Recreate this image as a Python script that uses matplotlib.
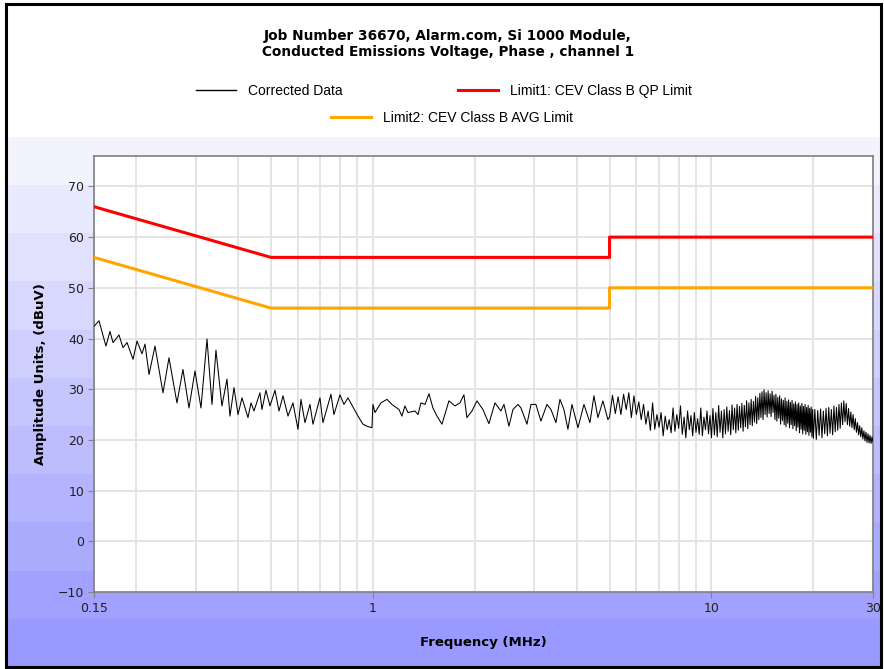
import numpy as np
import matplotlib.pyplot as plt
from matplotlib.patches import Rectangle
from matplotlib.lines import Line2D
from matplotlib.ticker import NullFormatter, LogLocator

# corrected data (MHz, dBuV), 0.15 - 5 MHz
freq_low = [0.150, 0.1552, 0.1627, 0.1672, 0.1707, 0.1778, 0.1827, 0.1878, 0.1956, 0.2010,
            0.2079, 0.2122, 0.2181, 0.2271, 0.2398, 0.2498, 0.2637, 0.2747, 0.2862, 0.2981,
            0.3105, 0.3235, 0.3346, 0.3438, 0.3581, 0.3706,
            0.3782, 0.3887, 0.3995, 0.4104, 0.4275, 0.4363, 0.4453, 0.4637, 0.4701, 0.4831,
            0.4965, 0.5137, 0.5279, 0.5424, 0.5612, 0.5805, 0.6006, 0.6130, 0.6299, 0.6517,
            0.6651, 0.6975, 0.7118, 0.7516, 0.7671, 0.7992, 0.8211, 0.8437, 0.9032, 0.9344,
            0.9602, 0.9934, 1.000, 1.014, 1.056, 1.100, 1.138, 1.194, 1.218, 1.243,
            1.269, 1.331, 1.359, 1.386, 1.425, 1.464, 1.504, 1.546, 1.599, 1.677,
            1.747, 1.807, 1.857, 1.895, 1.961, 2.029, 2.113, 2.201, 2.293,
            2.388, 2.438, 2.522, 2.592, 2.682, 2.737, 2.851, 2.930, 3.030, 3.135,
            3.266, 3.356, 3.472, 3.568, 3.666, 3.767, 3.872, 4.033, 4.201, 4.375,
            4.496, 4.620, 4.779, 4.944]
amp_low = [42.4, 43.5, 38.5, 41.4, 39.2, 40.7, 38.2, 39.2, 35.9, 39.5,
           37.0, 38.9, 32.9, 38.5, 29.3, 36.2, 27.3, 33.9, 26.3, 33.6,
           26.3, 39.9, 27.0, 37.7, 26.7, 32.0,
           24.7, 30.3, 25.0, 28.3, 24.4, 27.3, 25.7, 29.3, 26.0, 29.8,
           26.7, 29.8, 25.7, 28.7, 24.7, 27.3, 22.1, 28.0, 23.4, 27.0,
           23.1, 28.3, 23.4, 29.0, 25.0, 28.9, 27.0, 28.3, 24.7, 23.1,
           22.7, 22.4, 27.0, 25.4, 27.3, 28.0, 27.0, 26.0, 24.7, 26.7,
           25.4, 25.7, 25.0, 27.3, 27.0, 29.1, 26.3, 24.7, 23.1, 27.7,
           26.7, 27.3, 28.9, 24.4, 25.7, 27.7, 26.0, 23.2, 27.3,
           25.7, 27.0, 22.7, 26.0, 27.0, 26.3, 23.1, 27.0, 27.0, 23.7,
           27.0, 26.0, 23.4, 28.0, 26.0, 22.1, 27.0, 22.4, 27.0, 23.4,
           28.7, 24.4, 27.7, 24.0]

# 5 - 30 MHz, dense part of the sweep
freq_high = [5.0, 5.1, 5.2, 5.3, 5.4, 5.5, 5.6, 5.7, 5.8, 5.9,
             6.0, 6.1, 6.2, 6.3, 6.4, 6.5, 6.6, 6.7, 6.8, 6.9,
             7.0, 7.1, 7.2, 7.3, 7.4, 7.5, 7.6, 7.7, 7.8, 7.9,
             8.0, 8.1, 8.2, 8.3, 8.4, 8.5, 8.6, 8.7, 8.8, 8.9,
             9.0, 9.1, 9.2, 9.3, 9.4, 9.5, 9.6, 9.7, 9.8, 9.9, 10.0,
             10.1, 10.2, 10.3, 10.4, 10.5, 10.6, 10.7, 10.8, 10.9, 11.0,
             11.1, 11.2, 11.3, 11.4, 11.5, 11.6, 11.7, 11.8, 11.9, 12.0,
             12.1, 12.2, 12.3, 12.4, 12.5, 12.6, 12.7, 12.8, 12.9, 13.0,
             13.1, 13.2, 13.3, 13.4, 13.5, 13.6, 13.7, 13.8, 13.9, 14.0,
             14.1, 14.2, 14.3, 14.4, 14.5, 14.6, 14.7, 14.8, 14.9, 15.0,
             15.1, 15.2, 15.3, 15.4, 15.5, 15.6, 15.7, 15.8, 15.9, 16.0,
             16.1, 16.2, 16.3, 16.4, 16.5, 16.6, 16.7, 16.8, 16.9, 17.0,
             17.1, 17.2, 17.3, 17.4, 17.5, 17.6, 17.7, 17.8, 17.9, 18.0,
             18.1, 18.2, 18.3, 18.4, 18.5, 18.6, 18.7, 18.8, 18.9, 19.0,
             19.1, 19.2, 19.3, 19.4, 19.5, 19.6, 19.7, 19.8, 19.9, 20.0,
             20.2, 20.4, 20.6, 20.8, 21.0, 21.2, 21.4, 21.6, 21.8, 22.0,
             22.2, 22.4, 22.6, 22.8, 23.0, 23.2, 23.4, 23.6, 23.8, 24.0,
             24.2, 24.4, 24.6, 24.8, 25.0, 25.2, 25.4, 25.6, 25.8, 26.0,
             26.2, 26.4, 26.6, 26.8, 27.0, 27.2, 27.4, 27.6, 27.8, 28.0,
             28.2, 28.4, 28.6, 28.8, 29.0, 29.2, 29.4, 29.6, 29.8, 30.0]
amp_high = [24.5, 28.8, 25.2, 28.5, 25.0, 29.0, 26.0, 29.3, 24.4, 28.7,
            25.0, 27.5, 24.0, 27.0, 23.1, 25.7, 21.9, 27.3, 22.1, 25.0,
            22.5, 25.4, 20.8, 24.7, 22.0, 24.0, 21.4, 26.3, 21.7, 25.0,
            22.3, 26.7, 21.1, 24.5, 20.4, 25.7, 22.0, 24.8, 20.8, 25.4,
            21.5, 24.2, 21.1, 26.3, 20.8, 24.5, 22.0, 25.7, 21.2, 24.8, 20.4,
            26.2, 21.0, 25.4, 20.6, 26.8, 21.5, 25.7, 20.4, 26.0, 21.2,
            26.5, 21.7, 25.8, 21.0, 26.9, 22.0, 26.3, 21.4, 27.0, 21.9,
            26.6, 22.4, 27.2, 21.7, 26.8, 22.6, 27.7, 22.2, 27.3, 23.0,
            28.0, 22.8, 27.6, 23.5, 28.6, 23.2, 28.3, 24.0, 29.2, 24.4,
            29.5, 24.0, 29.9, 25.0, 29.3, 24.5, 29.7, 25.2, 29.1, 24.6,
            29.6, 25.4, 28.8, 24.0, 29.0, 23.7, 28.4, 24.3, 28.7, 23.1,
            28.1, 23.8, 27.8, 23.0, 28.3, 22.6, 27.6, 23.3, 27.9, 22.4,
            27.4, 23.0, 27.8, 22.2, 27.1, 22.8, 27.5, 21.8, 27.0, 22.5,
            27.3, 21.4, 26.7, 22.1, 27.2, 21.2, 26.6, 21.9, 27.0, 21.1,
            26.4, 21.6, 26.8, 20.9, 26.2, 21.5, 26.5, 20.6, 26.0, 20.3,
            26.0, 20.1, 25.8, 20.9, 26.1, 20.4, 25.7, 21.2, 26.2, 20.8,
            26.4, 21.3, 26.0, 21.0, 26.7, 21.6, 26.4, 21.9, 27.0, 22.3,
            27.3, 23.0, 27.7, 23.6, 27.2, 23.0, 26.2, 22.7, 25.5, 22.4,
            25.0, 22.0, 24.2, 21.5, 23.4, 21.0, 22.8, 20.6, 22.4, 20.2,
            21.8, 19.8, 21.5, 19.5, 21.2, 19.4, 20.9, 19.3, 20.6, 19.6]

# limit lines
lim_freq = [0.15, 0.5, 5, 5, 30]
qp_limit = [66, 56, 56, 60, 60]
avg_limit = [56, 46, 46, 50, 50]

x_ticks = [0.15, 1, 10, 30]
x_ticklabels = ['0.15', '1', '10', '30']
y_ticks = list(range(-10, 80, 10))

W, H = 884, 669
fig = plt.figure(figsize=(W / 100, H / 100), dpi=100)
fig.patch.set_facecolor('white')

# banded blue background below the header
bg = fig.add_axes([6 / W, 2 / H, 875 / W, (667 - 137) / H], zorder=-10)
nb = 11
t = np.linspace(0, 1, nb)[:, None]
top = np.array([0.955, 0.955, 0.997])
bot = np.array([0.600, 0.600, 1.000])
cols = top + (bot - top) * t
bg.imshow(cols[:, None, :], aspect='auto', extent=[0, 1, 0, 1], interpolation='nearest')
bg.set_axis_off()

# outer frame
fig.add_artist(Rectangle((6 / W, 2 / H), 875 / W, 663 / H, transform=fig.transFigure,
                         fill=False, edgecolor='black', lw=2.2, zorder=20))

ax = fig.add_axes([94 / W, 1 - 592 / H, (873 - 94) / W, (592 - 156) / H])
ax.set_facecolor('white')
ax.plot(freq_low + freq_high, amp_low + amp_high, color='black', lw=0.75, zorder=3)
ax.plot(lim_freq, qp_limit, color='#ff0000', lw=2.2, zorder=4)
ax.plot(lim_freq, avg_limit, color='#ffa500', lw=2.2, zorder=4)

ax.set_xscale('log')
ax.set_xlim(0.15, 30)
ax.set_ylim(-10, 76)
ax.set_xticks(x_ticks)
ax.set_xticklabels(x_ticklabels)
ax.xaxis.set_minor_locator(LogLocator(base=10, subs=np.arange(2, 10)))
ax.xaxis.set_minor_formatter(NullFormatter())
ax.set_yticks(y_ticks)
ax.tick_params(axis='both', which='major', direction='out', length=4, color='#808080',
               labelsize=9, labelcolor='#202020', pad=3)
ax.tick_params(axis='x', which='minor', length=0)
ax.grid(which='major', color='#e2e2e2', lw=1.3, zorder=0)
ax.grid(which='minor', axis='x', color='#e2e2e2', lw=1.3, zorder=0)
ax.set_axisbelow(True)
for s in ax.spines.values():
    s.set_color('#808080')
    s.set_linewidth(1.2)

ax.set_xlabel('Frequency (MHz)', fontsize=9.5, fontweight='bold', labelpad=15)
ax.set_ylabel('Amplitude Units, (dBuV)', fontsize=9.5, fontweight='bold', labelpad=8)

fig.text(448 / W, 1 - 44 / H, 'Job Number 36670, Alarm.com, Si 1000 Module,\nConducted Emissions Voltage, Phase , channel 1',
         ha='center', va='center', fontsize=9.8, fontweight='bold', linespacing=1.1)

lp = {'family': 'Liberation Sans', 'size': 10}
h1 = [Line2D([], [], color='black', lw=1), Line2D([], [], color='#ff0000', lw=2.2)]
fig.legend(h1, ['Corrected Data', 'Limit1: CEV Class B QP Limit'], loc='center',
           bbox_to_anchor=(444 / W, 1 - 91 / H), ncol=2, frameon=False, columnspacing=8.3,
           handlelength=2.9, handletextpad=0.85, prop=lp)
h2 = [Line2D([], [], color='#ffa500', lw=2.2)]
fig.legend(h2, ['Limit2: CEV Class B AVG Limit'], loc='center',
           bbox_to_anchor=(452 / W, 1 - 118 / H), frameon=False,
           handlelength=2.9, handletextpad=0.85, prop=lp)

fig.savefig('out.png', dpi=100)
